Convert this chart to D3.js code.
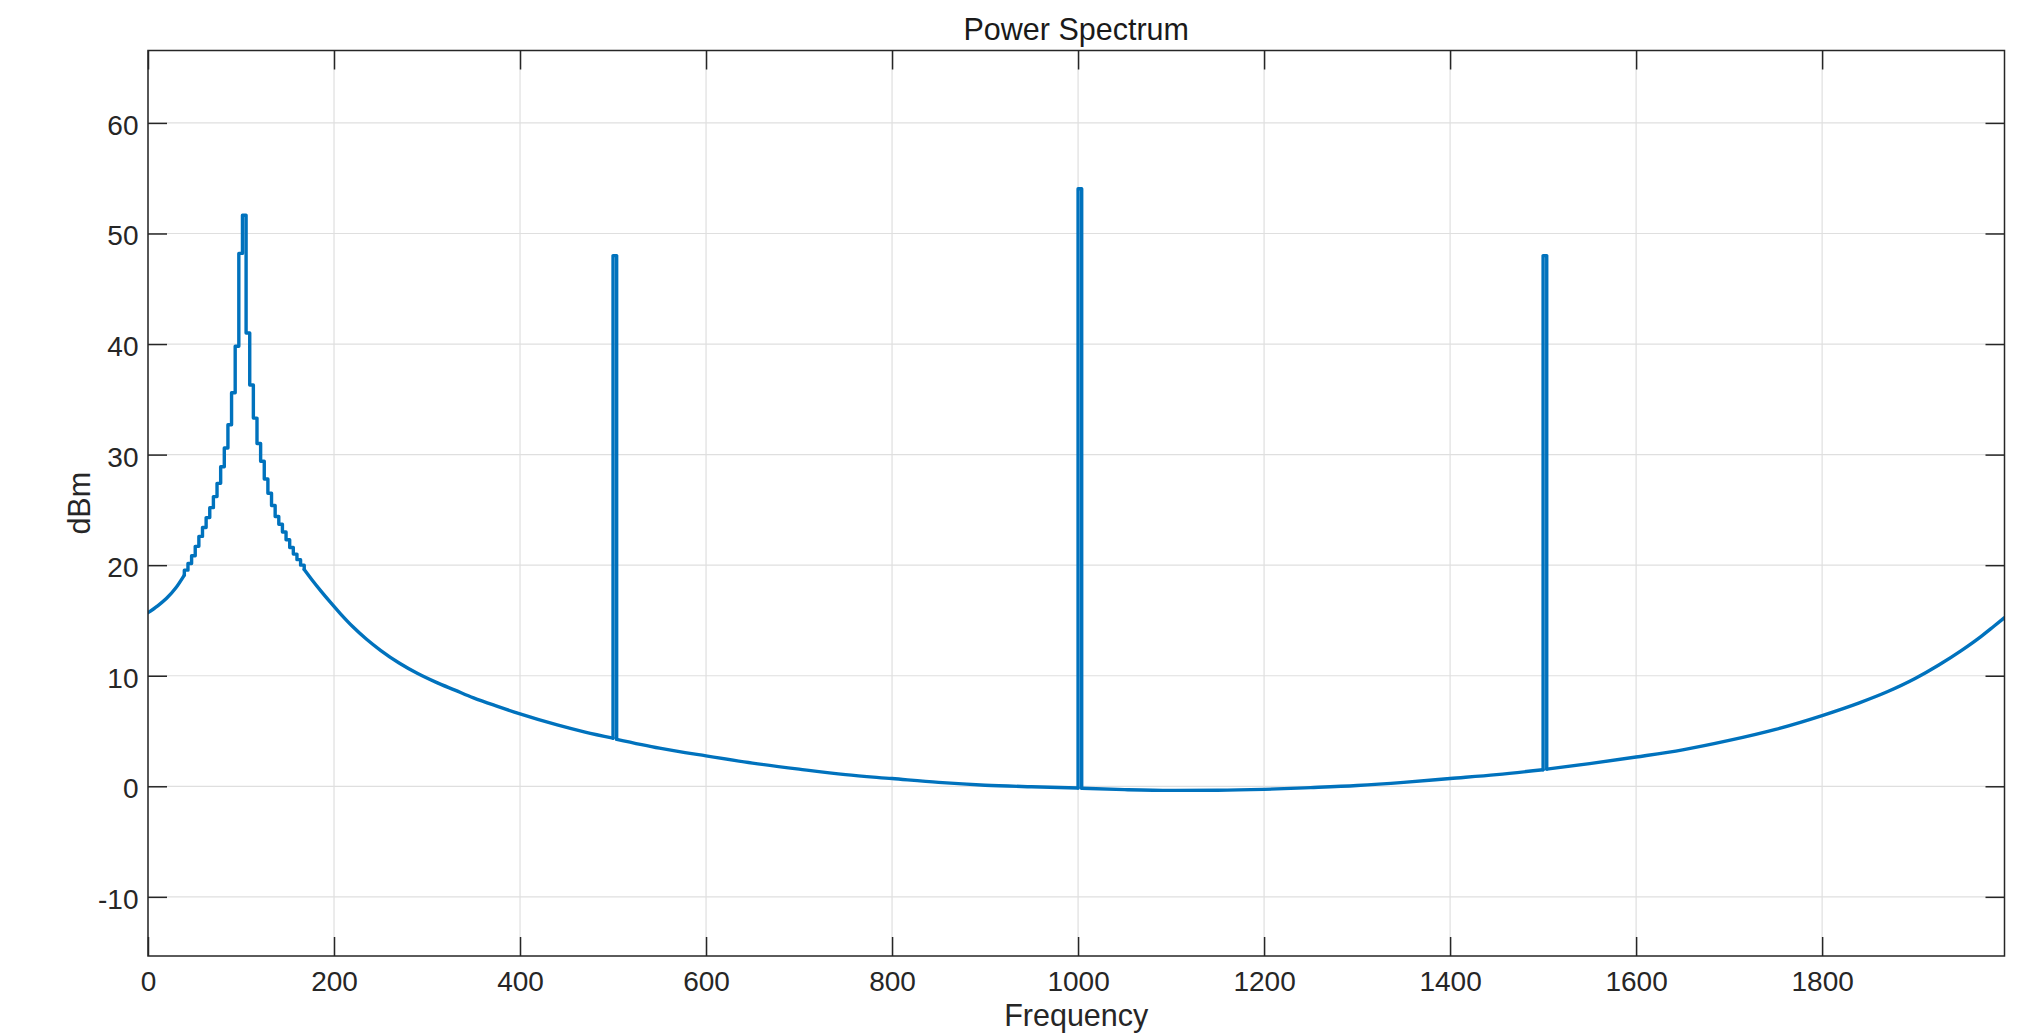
<!DOCTYPE html>
<html>
<head>
<meta charset="utf-8">
<script src="https://cdn.jsdelivr.net/npm/d3@7"></script>
<style>
  html, body { margin: 0; padding: 0; background: #ffffff; }
  svg { display: block; }
  text { font-family: "Liberation Sans", Arial, Helvetica, sans-serif; }
</style>
</head>
<body>
<svg id="chart" width="2033" height="1033"></svg>
<script>
// ---------------- data ----------------
const titleText = "Power Spectrum";
const xLabelText = "Frequency";
const yLabelText = "dBm";

const xTicks = [0, 200, 400, 600, 800, 1000, 1200, 1400, 1600, 1800];
const yTicks = [-10, 0, 10, 20, 30, 40, 50, 60];
const xDomain = [0, 1996.09];
const yDomain = [-15.35, 66.55];

// FFT bin width (Hz)
const binHz = 2000 / 512;

// smooth low-frequency start
const lowHz   = [0, 10, 20, 30, 39.06];
const lowDbm  = [15.7, 16.3, 17.0, 17.95, 19.1];

// staircase bins around the 100 Hz resonance (bin index 10 .. 42)
const stairFirstBin = 10;
const stairDbm = [19.55, 20.15, 20.85, 21.7, 22.6, 23.4, 24.3, 25.2,
                  26.2, 27.4, 28.9, 30.6, 32.7, 35.6, 39.8, 48.2, 51.65, 41.0,
                  36.3, 33.3, 31.0, 29.4, 27.8, 26.5, 25.4, 24.4, 23.7, 23.0,
                  22.3, 21.6, 21.0, 20.5, 20.0];

// smooth remainder of the spectrum
const curveHz  = [167.97, 176, 186, 196, 207, 220, 235, 250, 270, 290, 310, 330, 350, 375, 400, 440, 470,
                  500, 503.91, 550, 600, 650, 700, 750, 800, 850, 900, 950,
                  1000, 1003.91, 1050, 1100, 1150, 1200, 1250, 1300, 1350, 1400, 1450,
                  1500, 1503.91, 1550, 1600, 1650, 1700, 1750, 1800, 1840, 1870, 1900, 1925, 1950, 1970, 1985, 1996.09];
const curveDbm = [19.6, 18.7, 17.65, 16.65, 15.6, 14.45, 13.3, 12.3, 11.15, 10.2, 9.4, 8.7, 8.0, 7.25, 6.55, 5.55, 4.9,
                  4.35, 4.25, 3.45, 2.75, 2.1, 1.55, 1.05, 0.7, 0.35, 0.1, -0.04,
                  -0.15, -0.18, -0.3, -0.37, -0.36, -0.28, -0.12, 0.07, 0.35, 0.7, 1.05,
                  1.5, 1.55, 2.05, 2.65, 3.3, 4.15, 5.15, 6.4, 7.55, 8.55, 9.75, 10.95, 12.3, 13.5, 14.5, 15.25];

// pure tones (one FFT bin each)
const toneHz  = [500, 1000, 1500];
const toneDbm = [48.0, 54.05, 48.0];

// ---------------- layout ----------------
const plot = { left: 148, right: 2004.5, top: 50.5, bottom: 956 };
const axisColor = "#262626";
const lineColor = "#0072BD";
const gridColor = "#dfdfdf";
const tickLen = 19;
const lineWidth = 3.4;

const svg = d3.select("#chart");

const x = d3.scaleLinear().domain(xDomain).range([plot.left, plot.right]);
const y = d3.scaleLinear().domain(yDomain).range([plot.bottom, plot.top]);

// ---------- build line segments from the data arrays ----------
const segments = [];   // {pts, curve}
const lowPts = lowHz.map((f, i) => [f, lowDbm[i]]);
segments.push({ pts: lowPts, curve: d3.curveMonotoneX });

const stairPts = [lowPts[lowPts.length - 1]];
stairDbm.forEach((v, i) => {
  const f0 = (stairFirstBin + i) * binHz;
  stairPts.push([f0, v]);
  stairPts.push([f0 + binHz, v]);
});
stairPts.push([curveHz[0], curveDbm[0]]);
segments.push({ pts: stairPts, curve: d3.curveLinear });

let piece = [];
curveHz.forEach((f, i) => {
  piece.push([f, curveDbm[i]]);
  const t = toneHz.indexOf(f);
  if (t >= 0) {
    segments.push({ pts: piece, curve: d3.curveMonotoneX });
    const nextBase = curveDbm[i + 1];
    segments.push({
      pts: [[f, curveDbm[i]], [f, toneDbm[t]], [f + binHz, toneDbm[t]], [f + binHz, nextBase]],
      curve: d3.curveLinear
    });
    piece = [];
  }
});
segments.push({ pts: piece, curve: d3.curveMonotoneX });

// grid
const grid = svg.append("g");
grid.selectAll("line.gx").data(xTicks).enter().append("line")
  .attr("x1", d => x(d)).attr("x2", d => x(d))
  .attr("y1", plot.top).attr("y2", plot.bottom)
  .attr("stroke", gridColor).attr("stroke-width", 1.2);
grid.selectAll("line.gy").data(yTicks).enter().append("line")
  .attr("x1", plot.left).attr("x2", plot.right)
  .attr("y1", d => y(d)).attr("y2", d => y(d))
  .attr("stroke", gridColor).attr("stroke-width", 1.2);

// data line
svg.append("clipPath").attr("id", "clip").append("rect")
  .attr("x", plot.left).attr("y", plot.top)
  .attr("width", plot.right - plot.left).attr("height", plot.bottom - plot.top);

const lineG = svg.append("g").attr("clip-path", "url(#clip)");
segments.forEach(s => {
  const gen = d3.line().x(d => x(d[0])).y(d => y(d[1])).curve(s.curve);
  lineG.append("path")
    .datum(s.pts)
    .attr("d", gen)
    .attr("fill", "none")
    .attr("stroke", lineColor)
    .attr("stroke-width", lineWidth)
    .attr("stroke-linejoin", "round")
    .attr("stroke-linecap", "round");
});

// axes (MATLAB box style, ticks inside, on all sides)
function styleAxis(g) {
  g.select(".domain").remove();
  g.selectAll(".tick line").attr("stroke", axisColor).attr("stroke-width", 1.5);
  g.selectAll(".tick text").attr("fill", axisColor).style("font-size", "28px");
}

const xAxisB = svg.append("g").attr("transform", `translate(0,${plot.bottom})`)
  .call(d3.axisBottom(x).tickValues(xTicks).tickSizeInner(-tickLen).tickSizeOuter(0).tickFormat(d => String(d)));
styleAxis(xAxisB);
xAxisB.selectAll(".tick text").attr("y", 34.5).attr("dy", null);

const xAxisT = svg.append("g").attr("transform", `translate(0,${plot.top})`)
  .call(d3.axisTop(x).tickValues(xTicks).tickSizeInner(-tickLen).tickSizeOuter(0).tickFormat(""));
styleAxis(xAxisT);

const yAxisL = svg.append("g").attr("transform", `translate(${plot.left},0)`)
  .call(d3.axisLeft(y).tickValues(yTicks).tickSizeInner(-tickLen).tickSizeOuter(0).tickFormat(d => String(d)));
styleAxis(yAxisL);
yAxisL.selectAll(".tick text").attr("x", -9.5).attr("dy", null).attr("y", 11.5).attr("text-anchor", "end");

const yAxisR = svg.append("g").attr("transform", `translate(${plot.right},0)`)
  .call(d3.axisRight(y).tickValues(yTicks).tickSizeInner(-tickLen).tickSizeOuter(0).tickFormat(""));
styleAxis(yAxisR);

// box
svg.append("rect")
  .attr("x", plot.left).attr("y", plot.top)
  .attr("width", plot.right - plot.left).attr("height", plot.bottom - plot.top)
  .attr("fill", "none").attr("stroke", axisColor).attr("stroke-width", 1.5);

// title and labels
const cx = (plot.left + plot.right) / 2;
svg.append("text").attr("x", cx).attr("y", 39.5)
  .attr("text-anchor", "middle").attr("fill", "#1a1a1a")
  .style("font-size", "30.5px").text(titleText);

svg.append("text").attr("x", cx).attr("y", 1026)
  .attr("text-anchor", "middle").attr("fill", axisColor)
  .style("font-size", "30.5px").text(xLabelText);

svg.append("text")
  .attr("transform", `translate(90,${(plot.top + plot.bottom) / 2}) rotate(-90)`)
  .attr("text-anchor", "middle").attr("fill", axisColor)
  .style("font-size", "30.5px").text(yLabelText);
</script>
</body>
</html>
